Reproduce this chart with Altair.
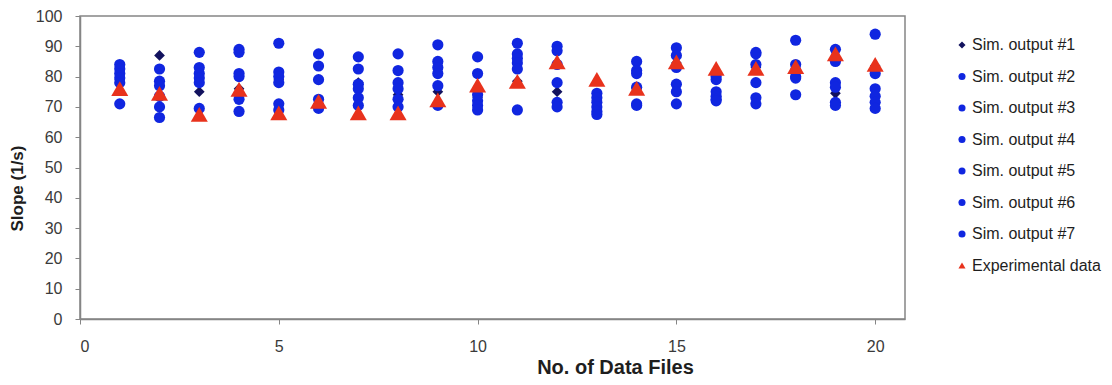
import altair as alt
import pandas as pd

# ---------------- data ----------------
files = list(range(1, 21))

sim1 = [79, 87, 75, 76, 79, 79, 78, 74, 75, 73, 78.5, 75, 72, 76, 84.5, 79, 83, 82, 74.5, 83.5]
sim2 = [84, 82.5, 88, 89, 91, 87.5, 86.5, 87.5, 90.5, 86.5, 91, 90, 74.5, 85, 89.5, 80, 88, 92, 89, 94]
sim3 = [82.5, 78.5, 83, 88, 81.5, 83.5, 82.5, 82, 85, 81, 87.5, 88.5, 73, 82, 87, 79, 87.5, 84, 85, 81]
sim4 = [81, 77, 81, 81, 80, 79, 77.5, 78, 83, 74, 86, 84, 71.5, 81, 83, 75, 84, 82, 78, 76]
sim5 = [79.5, 73.5, 79.5, 80, 78, 72.5, 76, 76, 81, 72, 84.5, 78, 70, 76.5, 77.5, 73.5, 78, 80, 76.5, 73.5]
sim6 = [78, 70, 78, 72.5, 71, 70.5, 73, 72.5, 77, 70.5, 82.5, 71.5, 68.5, 71, 75, 72.5, 73, 79.5, 71.5, 71.5]
sim7 = [71, 66.5, 69.5, 68.5, 69, 69.5, 70.5, 70, 70.5, 69, 69, 70, 67.5, 70.5, 71, 72, 71, 74, 70.5, 69.5]
experimental = [76, 74.5, 67.5, 75.8, 68, 71.8, 68, 68, 72.3, 77.2, 78.4, 84.9, 79.1, 76.1, 84.9,
                82.7, 82.7, 83.3, 87.5, 84]

series_names = ["Sim. output #1", "Sim. output #2", "Sim. output #3", "Sim. output #4",
                "Sim. output #5", "Sim. output #6", "Sim. output #7", "Experimental data"]
series_values = [sim1, sim2, sim3, sim4, sim5, sim6, sim7, experimental]

x_ticks = [0, 5, 10, 15, 20]
y_ticks = list(range(0, 101, 10))

rows = []
for name, vals in zip(series_names, series_values):
    for f, v in zip(files, vals):
        rows.append({"file": f, "slope": v, "series": name})
df = pd.DataFrame(rows)

colors = ["#12125e"] + ["#1026e0"] * 6 + ["#e8321c"]
shapes = ["diamond"] + ["circle"] * 6 + ["triangle-up"]

FONT = "Liberation Sans"
AXIS_GREY = "#858585"

legend = alt.Legend(
    title=None, orient="none", legendX=874, legendY=21,
    labelFont=FONT, labelFontSize=16, labelColor="#1e1e1e", labelLimit=400,
    symbolSize=50, symbolStrokeWidth=0, rowPadding=15.5, labelOffset=2, padding=0,
)

x = alt.X(
    "file:Q",
    scale=alt.Scale(domain=[0, 20.75], nice=False, zero=False),
    axis=alt.Axis(
        values=x_ticks, title="No. of Data Files", grid=False,
        labelFont=FONT, labelFontSize=16, labelColor="#3a3a3a", labelPadding=14,
        tickSize=5, tickColor=AXIS_GREY, domainColor=AXIS_GREY, domainWidth=1.5,
        titleFont=FONT, titleFontSize=20, titleFontWeight="bold", titleColor="#1e1e1e",
        titleX=535, titleY=54, titleAlign="center", titleBaseline="alphabetic",
    ),
)
y = alt.Y(
    "slope:Q",
    scale=alt.Scale(domain=[0, 100], nice=False),
    axis=alt.Axis(
        values=y_ticks, title="Slope (1/s)", grid=False,
        labelFont=FONT, labelFontSize=16, labelColor="#3a3a3a", labelPadding=13,
        tickSize=5, tickColor=AXIS_GREY, domainColor=AXIS_GREY, domainWidth=1.5,
        titleFont=FONT, titleFontSize=17, titleFontWeight="bold", titleColor="#1e1e1e",
        titleX=-63, titleY=172, titleAlign="center", titleBaseline="middle", titleAngle=270,
    ),
)
color = alt.Color("series:N", scale=alt.Scale(domain=series_names, range=colors), legend=legend)
shape = alt.Shape("series:N", scale=alt.Scale(domain=series_names, range=shapes), legend=legend)

base = alt.Chart(df).encode(x=x, y=y, color=color, shape=shape)

diamonds = base.transform_filter(alt.datum.series == "Sim. output #1").mark_point(
    filled=True, size=115, opacity=1, strokeWidth=0)
circles = base.transform_filter(
    "datum.series != 'Sim. output #1' && datum.series != 'Experimental data'"
).mark_point(filled=True, size=125, opacity=1, strokeWidth=0)
triangles = base.transform_filter(alt.datum.series == "Experimental data").mark_point(
    filled=True, size=290, opacity=1, strokeWidth=0)

chart = alt.layer(diamonds, circles, triangles).properties(
    width=825, height=303,
    autosize=alt.AutoSizeParams(type="none"),
    padding={"left": 72, "top": 8, "right": 199, "bottom": 58},
).configure_view(stroke=AXIS_GREY, strokeWidth=1.5)

chart.save("out.html", embed_options={"renderer": "svg", "actions": False})
